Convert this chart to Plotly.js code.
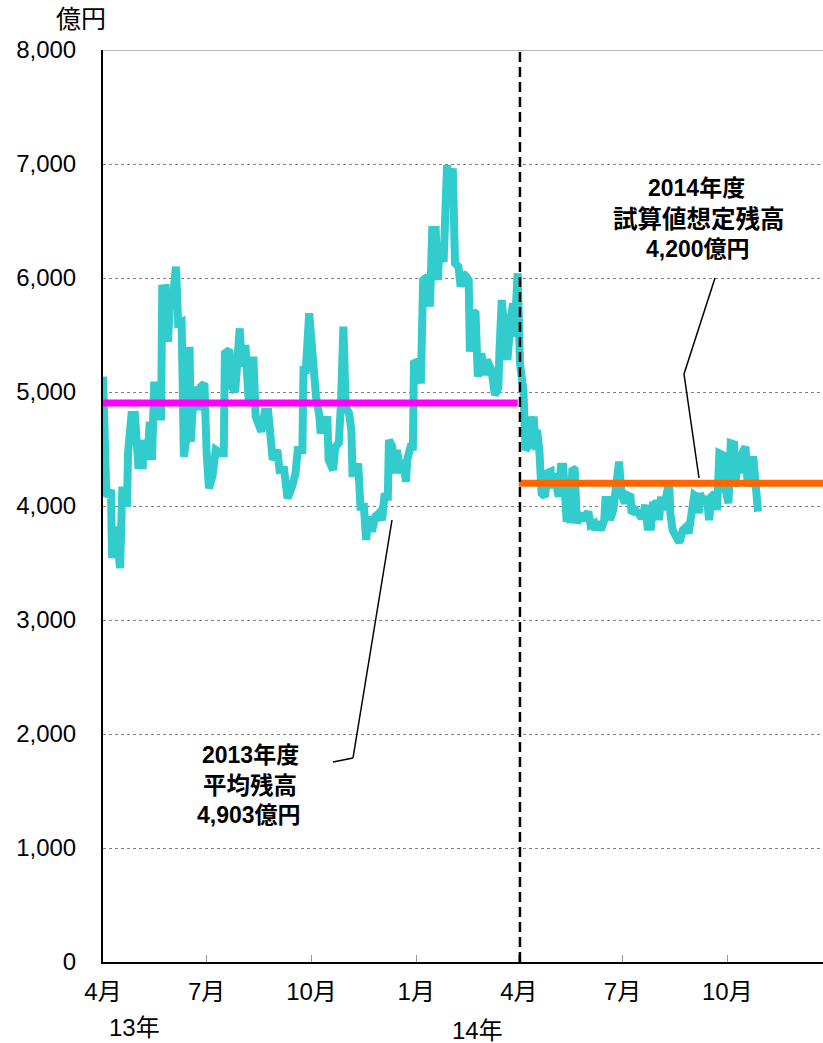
<!DOCTYPE html>
<html>
<head>
<meta charset="utf-8">
<script src="https://cdn.plot.ly/plotly-3.0.1.min.js"></script>
<style>html,body{margin:0;padding:0;background:#fff;}#chart{width:823px;height:1043px;}</style>
</head>
<body>
<div id="chart"></div>
<script>
// daily balance (億円)
const dates = [
'2013-04-01','2013-04-04','2013-04-08','2013-04-09','2013-04-12','2013-04-16','2013-04-18','2013-04-22','2013-04-23','2013-04-26',
'2013-04-29','2013-05-02','2013-05-06','2013-05-07','2013-05-10','2013-05-12','2013-05-14','2013-05-16','2013-05-19','2013-05-22',
'2013-05-23','2013-05-26','2013-05-28','2013-05-30','2013-06-01','2013-06-04','2013-06-06','2013-06-09','2013-06-11','2013-06-13',
'2013-06-16','2013-06-17','2013-06-20','2013-06-23','2013-06-26','2013-06-29','2013-07-01','2013-07-03','2013-07-06','2013-07-09',
'2013-07-13','2013-07-16','2013-07-17','2013-07-21','2013-07-23','2013-07-26','2013-07-30','2013-08-01','2013-08-04','2013-08-07',
'2013-08-11','2013-08-13','2013-08-18','2013-08-21','2013-08-24','2013-08-26','2013-08-28','2013-09-01','2013-09-03','2013-09-07',
'2013-09-10','2013-09-14','2013-09-17','2013-09-19','2013-09-23','2013-09-24','2013-09-26','2013-09-29','2013-10-02','2013-10-05',
'2013-10-08','2013-10-09','2013-10-12','2013-10-15','2013-10-16','2013-10-20','2013-10-22','2013-10-25','2013-10-27','2013-10-29',
'2013-10-31','2013-11-03','2013-11-05','2013-11-06','2013-11-09','2013-11-11','2013-11-13','2013-11-16','2013-11-18','2013-11-20',
'2013-11-23','2013-11-26','2013-11-29','2013-12-02','2013-12-04','2013-12-07','2013-12-08','2013-12-11','2013-12-12','2013-12-15',
'2013-12-18','2013-12-20','2013-12-23','2013-12-24','2013-12-27','2013-12-29','2013-12-30','2014-01-02','2014-01-05','2014-01-07',
'2014-01-11','2014-01-13','2014-01-15','2014-01-18','2014-01-20','2014-01-21','2014-01-25','2014-01-28','2014-01-30','2014-02-02',
'2014-02-04','2014-02-07','2014-02-09','2014-02-11','2014-02-14','2014-02-16','2014-02-17','2014-02-20','2014-02-22','2014-02-24',
'2014-02-27','2014-03-02','2014-03-04','2014-03-08','2014-03-11','2014-03-14','2014-03-15','2014-03-17','2014-03-19','2014-03-22',
'2014-03-25','2014-03-27','2014-03-28','2014-03-30','2014-03-31','2014-04-02','2014-04-04','2014-04-05','2014-04-07','2014-04-09',
'2014-04-11','2014-04-13','2014-04-14','2014-04-16','2014-04-17','2014-04-19','2014-04-21','2014-04-24','2014-04-26','2014-04-29',
'2014-04-30','2014-05-02','2014-05-03','2014-05-06','2014-05-08','2014-05-10','2014-05-12','2014-05-13','2014-05-15','2014-05-16',
'2014-05-18','2014-05-20','2014-05-22','2014-05-25','2014-05-28','2014-05-30','2014-06-01','2014-06-03','2014-06-06','2014-06-07',
'2014-06-10','2014-06-12','2014-06-15','2014-06-16','2014-06-18','2014-06-20','2014-06-23','2014-06-25','2014-06-28','2014-06-30',
'2014-07-03','2014-07-05','2014-07-08','2014-07-09','2014-07-12','2014-07-15','2014-07-18','2014-07-21','2014-07-23','2014-07-26',
'2014-07-28','2014-07-29','2014-07-31','2014-08-02','2014-08-04','2014-08-06','2014-08-08','2014-08-11','2014-08-12','2014-08-14',
'2014-08-17','2014-08-20','2014-08-23','2014-08-26','2014-08-28','2014-08-30','2014-09-02','2014-09-04','2014-09-06','2014-09-07',
'2014-09-10','2014-09-13','2014-09-15','2014-09-17','2014-09-20','2014-09-22','2014-09-24','2014-09-27','2014-09-29','2014-10-02',
'2014-10-04','2014-10-07','2014-10-08','2014-10-10','2014-10-12','2014-10-14','2014-10-17','2014-10-19','2014-10-20','2014-10-22',
'2014-10-24','2014-10-26','2014-10-28'
];
const balances = [
5134,4082,4140,3544,3818,3456,4170,3994,4465,4798,
4798,4360,4360,4579,4404,4740,4404,5090,4784,4784,
5909,5912,5441,5836,5780,6099,5605,5617,4433,4579,
5397,4564,5047,4842,5047,5076,4462,4155,4257,4491,
4462,4462,5339,5368,5047,5003,5558,5222,5412,4901,
5310,4784,4652,4827,4827,4491,4404,4491,4316,4316,
4067,4170,4287,4491,4491,5193,5193,5690,5281,4959,
4784,4637,4754,4754,4404,4316,4520,4553,4930,5573,
4871,4813,4667,4287,4287,4374,3994,3994,3702,3906,
3775,3906,3936,3877,4082,4082,4579,4520,4287,4491,
4287,4404,4213,4404,4520,4520,5252,5266,5076,5982,
6011,5748,6421,6421,5982,6216,6143,6991,6743,6962,
6129,6099,5923,6041,6011,5982,5354,5705,5690,5134,
5339,5149,5281,5193,4974,5035,5354,5807,5573,5281,
5661,5778,5485,6011,6041,5252,5047,5018,4491,4520,
4784,4667,4784,4491,4667,4491,4111,4082,4287,4301,
4155,4287,4230,4082,4345,4345,4024,3862,4024,3848,
4330,4316,3848,3936,3877,3936,3950,3833,3848,3789,
3862,3789,3877,4053,4053,3877,3965,4140,4389,4111,
4024,4096,4082,3936,3965,3936,3892,4009,3818,3818,
4038,3877,4053,3877,4082,3965,4082,4213,3936,3789,
3731,3680,3789,3818,3760,3965,4096,4082,3936,4111,
4025,4082,3877,4082,4111,3965,4462,4447,4170,4024,
4550,4540,4170,4404,4290,4462,4520,4170,4230,4404,
4404,4111,3950
];
// fiscal-year reference levels
const fy2013Dates = ['2013-04-01','2014-03-31'];
const fy2013Avg = [4903,4903];
const fy2014Dates = ['2014-04-01','2014-12-24'];
const fy2014Est = [4200,4200];
const monthTicks = ['2013-04-01','2013-07-01','2013-10-01','2014-01-01','2014-04-01','2014-07-01','2014-10-01'];
const monthLabels = ['4月','7月','10月','1月','4月','7月','10月'];
const yTicks = [0,1000,2000,3000,4000,5000,6000,7000,8000];

const FONT = 'Liberation Sans, Arial, Noto Sans CJK JP, sans-serif';

const traces = [
  {x: dates, y: balances, type:'scatter', mode:'lines',
   line:{color:'#33CCCC', width:8}, hoverinfo:'skip'},
  {x: fy2013Dates, y: fy2013Avg, type:'scatter', mode:'lines',
   line:{color:'#FF00FF', width:7}, hoverinfo:'skip'},
  {x: fy2014Dates, y: fy2014Est, type:'scatter', mode:'lines',
   line:{color:'#FF6600', width:7}, hoverinfo:'skip'}
];

function P(px){return (px-103)/720;}
function Q(py){return (962-py)/912;}
function seg(x0,y0,x1,y1){return {type:'line',xref:'paper',yref:'paper',x0:P(x0),y0:Q(y0),x1:P(x1),y1:Q(y1),line:{color:'#000',width:1.5}};}

const layout = {
  width:823, height:1043,
  margin:{l:103, r:0, t:50, b:81},
  paper_bgcolor:'#fff', plot_bgcolor:'#fff',
  showlegend:false,
  font:{family:FONT, size:24, color:'#000'},
  xaxis:{type:'date', range:['2013-04-01','2014-12-24'],
    tickmode:'array', tickvals:monthTicks, ticktext:monthLabels,
    ticks:'inside', ticklen:7, tickcolor:'#999', tickwidth:1,
    showline:true, linecolor:'#000', linewidth:2,
    showgrid:false, zeroline:false, ticklabelstandoff:7,
    tickfont:{family:FONT,size:24,color:'#000'}},
  yaxis:{range:[0,8000], tickmode:'array', tickvals:yTicks, tickformat:',d',
    showgrid:true, gridcolor:'#808080', griddash:'dot', gridwidth:1,
    showline:true, linecolor:'#000', linewidth:2, ticks:'', zeroline:false,
    ticklabelstandoff:20, tickfont:{family:FONT,size:24,color:'#000'}},
  shapes:[
    {type:'line',xref:'paper',yref:'y',x0:0,x1:1,y0:8000,y1:8000,line:{color:'#a0a0a0',width:1.5}},
    {type:'line',xref:'x',yref:'paper',x0:'2014-04-02',x1:'2014-04-02',y0:0,y1:1,line:{color:'#000',width:2.5,dash:'10px,5px'}},
    seg(333,762,353,758), seg(353,758,392,520),
    seg(715,278,684,374), seg(684,374,699,478)
  ],
  annotations:[
    {text:'億円', xref:'paper', yref:'paper', x:P(81), y:Q(19), showarrow:false, xanchor:'center', yanchor:'middle', font:{size:25}},
    {text:'13年', xref:'paper', yref:'paper', x:P(134), y:Q(1027), showarrow:false, xanchor:'center', yanchor:'middle', font:{size:24}},
    {text:'14年', xref:'paper', yref:'paper', x:P(477), y:Q(1030), showarrow:false, xanchor:'center', yanchor:'middle', font:{size:24}},
    {text:'<b>2013年度</b>', xref:'paper', yref:'paper', x:P(250), y:Q(755), showarrow:false, xanchor:'center', yanchor:'middle', font:{size:23}},
    {text:'<b>平均残高</b>', xref:'paper', yref:'paper', x:P(250), y:Q(785), showarrow:false, xanchor:'center', yanchor:'middle', font:{size:23.5}},
    {text:'<b>4,903億円</b>', xref:'paper', yref:'paper', x:P(249), y:Q(815), showarrow:false, xanchor:'center', yanchor:'middle', font:{size:23}},
    {text:'<b>2014年度</b>', xref:'paper', yref:'paper', x:P(696), y:Q(188), showarrow:false, xanchor:'center', yanchor:'middle', font:{size:23}},
    {text:'<b>試算値想定残高</b>', xref:'paper', yref:'paper', x:P(699), y:Q(219), showarrow:false, xanchor:'center', yanchor:'middle', font:{size:24.5}},
    {text:'<b>4,200億円</b>', xref:'paper', yref:'paper', x:P(698), y:Q(249), showarrow:false, xanchor:'center', yanchor:'middle', font:{size:23}}
  ]
};

Plotly.newPlot('chart', traces, layout, {displayModeBar:false, staticPlot:true});
</script>
</body>
</html>
